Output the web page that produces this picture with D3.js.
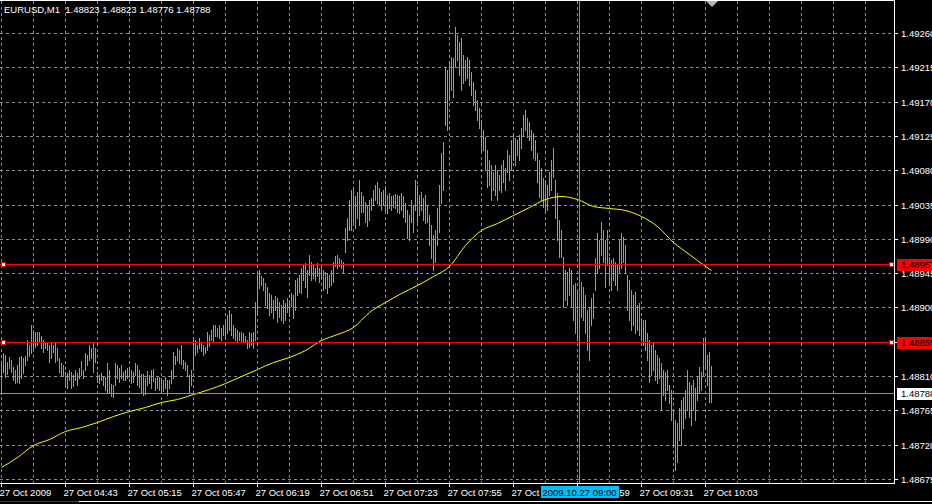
<!DOCTYPE html>
<html>
<head>
<meta charset="utf-8">
<script src="https://cdn.jsdelivr.net/npm/d3@7"></script>
<style>
html, body { margin: 0; padding: 0; background: #000; overflow: hidden; }
svg { display: block; font-family: "Liberation Sans", Arial, sans-serif; }
</style>
</head>
<body>
<svg id="chart" width="932" height="504"></svg>
<script>
// chart data
var symbol = 'EURUSD,M1';
var lastBar = [1.48823, 1.48823, 1.48776, 1.48788];   // open high low close
var firstBarTime = '2009.10.27 04:11';

// one bar per minute, high and low
var highs = [
1.48828,1.48840,1.48838,1.48828,1.48835,1.48831,1.48822,1.48818,1.48824,1.48835,
1.48836,1.48834,1.48836,1.48857,1.48851,1.48877,1.48870,1.48868,1.48868,1.48868,
1.48862,1.48857,1.48855,1.48855,1.48851,1.48855,1.48851,1.48855,1.48847,1.48834,
1.48827,1.48824,1.48815,1.48814,1.48818,1.48815,1.48811,1.48818,1.48814,1.48820,
1.48830,1.48818,1.48840,1.48838,1.48851,1.48847,1.48855,1.48847,1.48815,1.48811,
1.48814,1.48810,1.48809,1.48827,1.48818,1.48800,1.48798,1.48827,1.48824,1.48820,
1.48824,1.48815,1.48818,1.48820,1.48822,1.48818,1.48815,1.48827,1.48824,1.48818,
1.48813,1.48813,1.48807,1.48817,1.48811,1.48818,1.48819,1.48807,1.48810,1.48809,
1.48807,1.48805,1.48809,1.48805,1.48805,1.48818,1.48841,1.48836,1.48847,1.48844,
1.48851,1.48831,1.48828,1.48824,1.48811,1.48818,1.48857,1.48857,1.48851,1.48860,
1.48853,1.48851,1.48848,1.48868,1.48864,1.48870,1.48877,1.48877,1.48873,1.48877,
1.48873,1.48877,1.48881,1.48890,1.48897,1.48891,1.48877,1.48873,1.48870,1.48868,
1.48868,1.48866,1.48862,1.48857,1.48868,1.48866,1.48868,1.48907,1.48946,1.48949,
1.48941,1.48939,1.48932,1.48927,1.48919,1.48916,1.48910,1.48915,1.48912,1.48907,
1.48903,1.48910,1.48906,1.48912,1.48910,1.48919,1.48916,1.48936,1.48939,1.48943,
1.48952,1.48956,1.48958,1.48949,1.48969,1.48960,1.48956,1.48952,1.48958,1.48952,
1.48954,1.48949,1.48946,1.48945,1.48943,1.48949,1.48960,1.48967,1.48969,1.48965,
1.48962,1.48960,1.49004,1.49017,1.49041,1.49054,1.49058,1.49046,1.49051,1.49067,
1.49051,1.49046,1.49038,1.49034,1.49041,1.49044,1.49054,1.49061,1.49065,1.49057,
1.49051,1.49054,1.49059,1.49048,1.49050,1.49046,1.49048,1.49049,1.49048,1.49046,
1.49050,1.49046,1.49037,1.49028,1.49021,1.49041,1.49034,1.49067,1.49061,1.49048,
1.49051,1.49044,1.49048,1.49034,1.49021,1.49008,1.48995,1.49002,1.49030,1.49061,
1.49103,1.49117,1.49215,1.49211,1.49222,1.49229,1.49227,1.49268,1.49257,1.49248,
1.49253,1.49231,1.49225,1.49229,1.49225,1.49209,1.49196,1.49185,1.49172,1.49162,
1.49146,1.49133,1.49124,1.49107,1.49093,1.49087,1.49078,1.49087,1.49080,1.49074,
1.49087,1.49093,1.49083,1.49107,1.49100,1.49120,1.49129,1.49122,1.49120,1.49126,
1.49135,1.49152,1.49159,1.49148,1.49143,1.49133,1.49129,1.49120,1.49103,1.49093,
1.49083,1.49070,1.49067,1.49061,1.49078,1.49093,1.49109,1.49067,1.49050,1.49015,
1.49002,1.48966,1.48949,1.48946,1.48952,1.48949,1.48929,1.48932,1.48923,1.48936,
1.48933,1.48927,1.48916,1.48897,1.48901,1.48912,1.48919,1.48965,1.48998,1.48988,
1.49012,1.49002,1.48988,1.49002,1.48966,1.48962,1.48965,1.48960,1.48956,1.48988,
1.48998,1.48992,1.48982,1.48943,1.48936,1.48923,1.48916,1.48920,1.48903,1.48906,
1.48886,1.48884,1.48884,1.48866,1.48857,1.48851,1.48853,1.48844,1.48838,1.48834,
1.48827,1.48818,1.48815,1.48818,1.48798,1.48792,1.48765,1.48752,1.48748,1.48768,
1.48779,1.48782,1.48792,1.48818,1.48802,1.48798,1.48805,1.48794,1.48809,1.48822,
1.48815,1.48860,1.48861,1.48838,1.48841,1.48823
];
var lows = [
1.48786,1.48815,1.48809,1.48813,1.48820,1.48815,1.48805,1.48801,1.48802,1.48801,
1.48807,1.48814,1.48824,1.48831,1.48836,1.48840,1.48847,1.48848,1.48851,1.48855,
1.48847,1.48841,1.48847,1.48844,1.48828,1.48834,1.48841,1.48828,1.48831,1.48815,
1.48811,1.48810,1.48798,1.48794,1.48805,1.48794,1.48797,1.48805,1.48798,1.48807,
1.48811,1.48807,1.48818,1.48824,1.48831,1.48834,1.48815,1.48828,1.48802,1.48801,
1.48805,1.48798,1.48792,1.48789,1.48788,1.48784,1.48782,1.48798,1.48807,1.48802,
1.48807,1.48805,1.48805,1.48807,1.48809,1.48801,1.48802,1.48811,1.48798,1.48796,
1.48789,1.48785,1.48786,1.48798,1.48801,1.48794,1.48803,1.48792,1.48794,1.48792,
1.48789,1.48790,1.48794,1.48785,1.48794,1.48801,1.48807,1.48826,1.48831,1.48827,
1.48826,1.48820,1.48818,1.48811,1.48788,1.48798,1.48818,1.48838,1.48841,1.48847,
1.48843,1.48838,1.48840,1.48844,1.48849,1.48857,1.48855,1.48862,1.48862,1.48860,
1.48857,1.48864,1.48861,1.48866,1.48870,1.48864,1.48860,1.48857,1.48855,1.48857,
1.48855,1.48855,1.48855,1.48847,1.48848,1.48851,1.48847,1.48857,1.48894,1.48925,
1.48929,1.48923,1.48903,1.48899,1.48890,1.48894,1.48886,1.48897,1.48881,1.48887,
1.48884,1.48880,1.48884,1.48894,1.48889,1.48902,1.48886,1.48897,1.48916,1.48920,
1.48919,1.48936,1.48927,1.48914,1.48943,1.48936,1.48939,1.48936,1.48941,1.48933,
1.48939,1.48923,1.48925,1.48919,1.48927,1.48929,1.48933,1.48954,1.48952,1.48954,
1.48952,1.48946,1.48973,1.48988,1.49002,1.49002,1.49012,1.49004,1.49017,1.49008,
1.49025,1.49025,1.49012,1.49007,1.49015,1.49028,1.49034,1.49041,1.49037,1.49034,
1.49028,1.49034,1.49028,1.49024,1.49030,1.49028,1.49032,1.49030,1.49025,1.49024,
1.49028,1.49019,1.49012,1.48991,1.48988,1.49012,1.48999,1.49028,1.49012,1.49021,
1.49028,1.49015,1.49011,1.49012,1.48982,1.48965,1.48949,1.48960,1.48982,1.48999,
1.49037,1.49054,1.49139,1.49133,1.49172,1.49185,1.49176,1.49215,1.49225,1.49205,
1.49185,1.49194,1.49198,1.49201,1.49192,1.49179,1.49166,1.49159,1.49146,1.49135,
1.49107,1.49107,1.49080,1.49058,1.49061,1.49041,1.49054,1.49048,1.49041,1.49054,
1.49051,1.49065,1.49054,1.49078,1.49067,1.49080,1.49093,1.49087,1.49100,1.49093,
1.49109,1.49126,1.49133,1.49124,1.49120,1.49107,1.49096,1.49093,1.49065,1.49045,
1.49041,1.49032,1.49024,1.49028,1.49048,1.49054,1.49071,1.49017,1.48988,1.48966,
1.48966,1.48901,1.48910,1.48903,1.48916,1.48901,1.48884,1.48866,1.48857,1.48897,
1.48887,1.48884,1.48866,1.48844,1.48831,1.48877,1.48886,1.48923,1.48945,1.48952,
1.48969,1.48960,1.48927,1.48956,1.48929,1.48923,1.48936,1.48929,1.48923,1.48946,
1.48952,1.48960,1.48945,1.48897,1.48884,1.48870,1.48877,1.48866,1.48870,1.48864,
1.48857,1.48851,1.48844,1.48831,1.48802,1.48811,1.48818,1.48805,1.48801,1.48807,
1.48765,1.48785,1.48779,1.48792,1.48775,1.48752,1.48719,1.48687,1.48697,1.48726,
1.48719,1.48742,1.48755,1.48765,1.48756,1.48746,1.48765,1.48752,1.48779,1.48789,
1.48792,1.48811,1.48820,1.48798,1.48776,1.48776
];

// moving average, sampled at these bars
var maBars = [0, 8, 16, 24, 32, 40, 48, 56, 64, 72, 80, 88, 96, 104, 112, 120, 128, 136, 144, 152,
    160, 168, 176, 184, 192, 200, 208, 216, 224, 232, 240, 248, 256, 264, 272, 280, 288, 296, 304, 312,
    320, 328, 336, 344, 352, 355];
var maValues = [1.48691, 1.48704, 1.48719, 1.48727, 1.48738, 1.48743, 1.48750, 1.48758, 1.48764, 1.48769,
    1.48776, 1.48780, 1.48786, 1.48793, 1.48801, 1.48810, 1.48819, 1.48828, 1.48835, 1.48844,
    1.48857, 1.48865, 1.48874, 1.48894, 1.48907, 1.48919, 1.48929, 1.48941, 1.48954, 1.48982,
    1.49001, 1.49011, 1.49021, 1.49032, 1.49042, 1.49046, 1.49042, 1.49033, 1.49030, 1.49028,
    1.49020, 1.49007, 1.48986, 1.48970, 1.48954, 1.48949];

var priceTicks = [1.49260, 1.49215, 1.49170, 1.49125, 1.49080, 1.49035, 1.48990,
    1.48945, 1.48900, 1.48855, 1.48810, 1.48765, 1.48720, 1.48675];
var timeTicks = ['04:11', '04:43', '05:15', '05:47', '06:19', '06:51', '07:23',
    '07:55', '08:27', '08:59', '09:31', '10:03'];
var timeLabels = ['27 Oct 2009', '27 Oct 04:43', '27 Oct 05:15', '27 Oct 05:47', '27 Oct 06:19', '27 Oct 06:51',
    '27 Oct 07:23', '27 Oct 07:55', '27 Oct 08:27', '27 Oct 08:59', '27 Oct 09:31', '27 Oct 10:03'];

var hLines = [1.48957, 1.48855];
var bidPrice = 1.48788;
var cursorTime = '2009.10.27 09:00';

var right = 894, bottom = 483;
var barColor = '#38e038', gridColor = '#878c99';

var svg = d3.select('#chart');
svg.append('rect').attr('width', 932).attr('height', 504).attr('fill', '#000');

var parse = d3.timeParse('%Y.%m.%d %H:%M');
var t0 = parse(firstBarTime);
var barTime = function (i) { return d3.timeMinute.offset(t0, i); };
var dayPart = firstBarTime.slice(0, 11);

var x = d3.scaleTime()
    .domain([t0, barTime(highs.length - 1)])
    .rangeRound([1, 1 + 2 * (highs.length - 1)]);
var y = d3.scaleLinear()
    .domain([priceTicks[priceTicks.length - 1], priceTicks[0]])
    .rangeRound([479, 33]);

// grid
var grid = svg.append('g').attr('stroke', gridColor).attr('stroke-dasharray', '3,3')
    .attr('shape-rendering', 'crispEdges');
grid.selectAll('.hg').data(priceTicks).join('line')
    .attr('class', 'hg')
    .attr('x1', 0).attr('x2', right)
    .attr('y1', d => y(d) + 0.5).attr('y2', d => y(d) + 0.5);
var vgrid = d3.range(0, 460, 16).map(barTime).filter(t => x(t) < right);
grid.selectAll('.vg').data(vgrid).join('line')
    .attr('class', 'vg')
    .attr('y1', 1).attr('y2', bottom)
    .attr('x1', d => x(d) + 0.5).attr('x2', d => x(d) + 0.5);

// bars
svg.append('g').attr('shape-rendering', 'crispEdges')
    .selectAll('rect').data(highs).join('rect')
    .attr('x', (d, i) => x(barTime(i)))
    .attr('y', d => y(d))
    .attr('width', 1)
    .attr('height', (d, i) => Math.max(1, y(lows[i]) - y(d) + 1))
    .attr('fill', barColor);

// moving average
var ma = d3.line()
    .x((d, i) => x(barTime(maBars[i])) + 0.5)
    .y(d => y(d) + 0.5)
    .curve(d3.curveMonotoneX);
svg.append('path').datum(maValues)
    .attr('d', ma)
    .attr('fill', 'none')
    .attr('stroke', '#ffff00')
    .attr('stroke-width', 1);

// bid line
svg.append('line')
    .attr('x1', 0).attr('x2', right)
    .attr('y1', y(bidPrice) + 0.5).attr('y2', y(bidPrice) + 0.5)
    .attr('stroke', '#909090').attr('shape-rendering', 'crispEdges');

// horizontal lines with handles
var hl = svg.append('g').selectAll('g').data(hLines).join('g');
hl.append('line')
    .attr('x1', 0).attr('x2', right)
    .attr('y1', d => y(d) + 0.5).attr('y2', d => y(d) + 0.5)
    .attr('stroke', '#ff0000').attr('shape-rendering', 'crispEdges');
[1.5, 889.5].forEach(function (hx) {
    hl.append('rect')
        .attr('x', hx).attr('y', d => y(d) - 1.5)
        .attr('width', 4).attr('height', 4)
        .attr('fill', '#fff').attr('stroke', '#ff0000')
        .attr('shape-rendering', 'crispEdges');
});

// vertical cursor line
var ct = parse(cursorTime);
svg.append('line')
    .attr('x1', x(ct) + 0.5).attr('x2', x(ct) + 0.5)
    .attr('y1', 0).attr('y2', bottom)
    .attr('stroke', '#00bfff').attr('shape-rendering', 'crispEdges');

// frame
var frame = svg.append('g').attr('stroke', '#fff').attr('shape-rendering', 'crispEdges');
frame.append('line').attr('x1', 0).attr('x2', right + 0.5).attr('y1', 0.5).attr('y2', 0.5);
frame.append('line').attr('x1', right + 0.5).attr('x2', right + 0.5).attr('y1', 0).attr('y2', bottom + 0.5);
frame.append('line').attr('x1', 0).attr('x2', right + 0.5).attr('y1', bottom + 0.5).attr('y2', bottom + 0.5);
svg.append('line').attr('x1', 0).attr('x2', 79).attr('y1', 501.5).attr('y2', 501.5).attr('stroke', '#3a3a3a');
svg.append('line').attr('x1', 79).attr('x2', 932).attr('y1', 501.5).attr('y2', 501.5).attr('stroke', '#fff');

// chart shift marker
svg.append('path').attr('d', 'M706,1L718,1L712,7Z').attr('fill', '#b8b8b8');

// price axis
var yAxis = d3.axisRight(y).tickValues(priceTicks).tickSize(4).tickPadding(3)
    .tickFormat(d3.format('.5f'));
var ya = svg.append('g').attr('transform', 'translate(' + right + ',0)').call(yAxis);
ya.select('.domain').remove();
ya.selectAll('line').attr('stroke', '#fff').attr('shape-rendering', 'crispEdges');
ya.selectAll('text').attr('fill', '#fff').attr('font-size', 9.5).attr('font-family', null);

// time axis
var xAxis = d3.axisBottom(x)
    .tickValues(timeTicks.map(t => parse(dayPart + t)))
    .tickSize(4)
    .tickFormat((d, i) => timeLabels[i]);
var xa = svg.append('g').attr('transform', 'translate(0,' + bottom + ')').call(xAxis);
xa.select('.domain').remove();
xa.selectAll('line').attr('stroke', '#fff').attr('shape-rendering', 'crispEdges');
xa.selectAll('text').attr('fill', '#fff').attr('font-size', 9.5).attr('font-family', null)
    .attr('text-anchor', 'start').attr('x', -2).attr('y', 6);

// price labels on the right
var tags = hLines.map(v => ({ v: v, bg: '#ff0000', fg: '#000' }))
    .concat([{ v: bidPrice, bg: '#fff', fg: '#000' }]);
var tg = svg.append('g').selectAll('g').data(tags).join('g');
tg.append('rect')
    .attr('x', 897).attr('y', d => y(d.v) - 5.5)
    .attr('width', 40).attr('height', 12)
    .attr('fill', d => d.bg).attr('shape-rendering', 'crispEdges');
tg.append('text')
    .attr('x', 901).attr('y', d => y(d.v) + 0.5).attr('dy', '0.34em')
    .attr('font-size', 9.5).attr('fill', d => d.fg)
    .text(d => d3.format('.5f')(d.v));

// cursor time label
var cx = x(ct) + 0.5;
svg.append('rect')
    .attr('x', cx - 39).attr('y', 486).attr('width', 78).attr('height', 12)
    .attr('fill', '#00bfff').attr('shape-rendering', 'crispEdges');
svg.append('text')
    .attr('x', cx).attr('y', 495.5).attr('text-anchor', 'middle')
    .attr('font-size', 9.5).attr('fill', '#000')
    .text(cursorTime);

// title
svg.append('text')
    .attr('x', 4).attr('y', 13)
    .attr('font-size', 9.5).attr('fill', '#fff')
    .style('white-space', 'pre')
    .text(symbol + '  ' + lastBar.map(d3.format('.5f')).join(' '));
</script>
</body>
</html>
